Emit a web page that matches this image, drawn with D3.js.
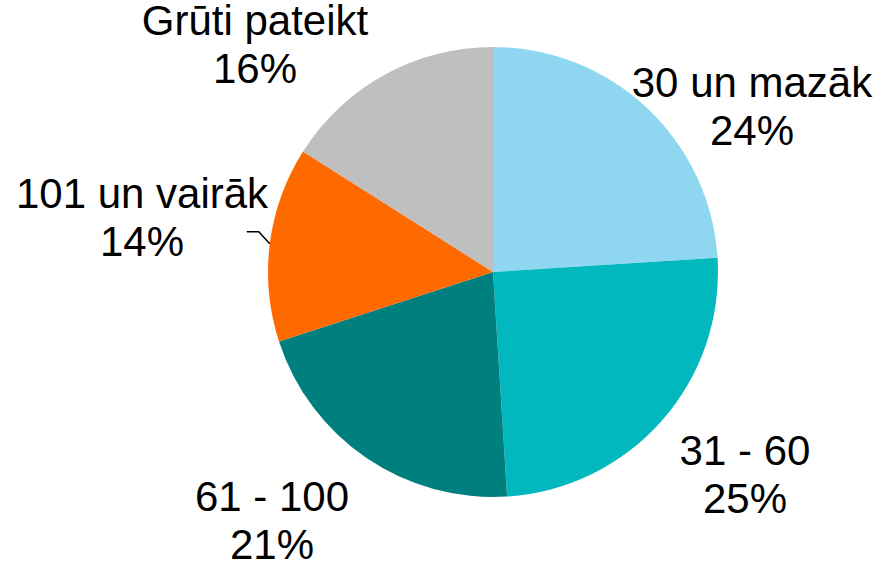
<!DOCTYPE html>
<html>
<head>
<meta charset="utf-8">
<script src="https://cdn.jsdelivr.net/npm/d3@7"></script>
<style>
	body { margin: 0; background: #fff; }
	#chart text { font-family: "Liberation Sans", Arial, sans-serif; font-size: 42px; fill: #000; }
</style>
</head>
<body>
<div id="chart"></div>
<script>
	var categories = ["30 un mazāk", "31 - 60", "61 - 100", "101 un vairāk", "Grūti pateikt"];
	var values = [24, 25, 21, 14, 16];
	var colors = ["#8fd7f0", "#00b8bd", "#007f7f", "#ff6a00", "#bfbfbf"];

	var width = 879, height = 564;
	var radius = 225;
	var cx = 493, cy = 272;

	// label block centres, relative to pie centre (first line baseline)
	var labelPos = [[259, -175], [252, 193], [-221, 239], [-351, -64], [-238, -237]];

	var svg = d3.select('#chart').append('svg')
		.attr('width', width)
		.attr('height', height);

	var g = svg.append("g")
		.attr("transform", "translate(" + cx + "," + cy + ")");

	var pie = d3.pie().sort(null).value(function(d){ return d; });
	var arc = d3.arc().innerRadius(0).outerRadius(radius);

	var slices = pie(values);

	g.selectAll("path")
		.data(slices)
		.enter()
		.append("path")
		.attr("d", arc)
		.style("fill", function(d, i){ return colors[i]; });

	// labels
	var labels = g.selectAll("text")
		.data(slices)
		.enter()
		.append("text")
		.attr("text-anchor", "middle")
		.attr("x", function(d, i){ return labelPos[i][0]; })
		.attr("y", function(d, i){ return labelPos[i][1]; });

	labels.append("tspan")
		.attr("x", function(d, i){ return labelPos[i][0]; })
		.text(function(d, i){ return categories[i]; });

	labels.append("tspan")
		.attr("x", function(d, i){ return labelPos[i][0]; })
		.attr("dy", 48)
		.text(function(d){ return d.value + "%"; });

	// leader line for the small orange slice
	var s = slices[3];
	var mid = (s.startAngle + s.endAngle) / 2;
	var p0 = [Math.sin(mid) * radius, -Math.cos(mid) * radius];
	var p1 = [p0[0] - 11, p0[1] - 12];
	var p2 = [p1[0] - 12, p1[1]];

	g.append("polyline")
		.attr("points", [p0, p1, p2].map(function(p){ return p.join(","); }).join(" "))
		.attr("fill", "none")
		.attr("stroke", "#000")
		.attr("stroke-width", 1.5);
</script>
</body>
</html>
